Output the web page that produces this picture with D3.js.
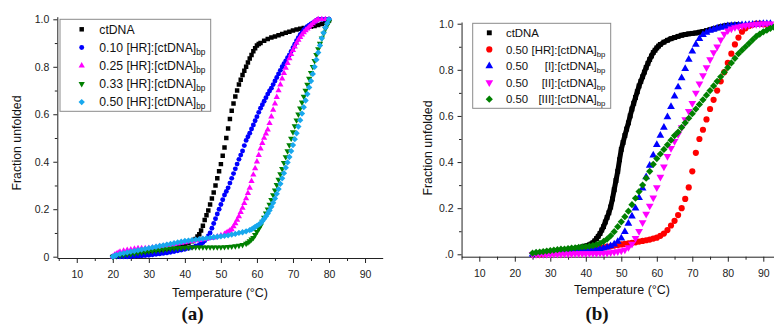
<!DOCTYPE html>
<html>
<head>
<meta charset="utf-8">
<script src="https://cdn.jsdelivr.net/npm/d3@7"></script>
<style>
  html, body { margin: 0; padding: 0; background: #fff; }
  svg { display: block; font-family: "Liberation Sans", Arial, sans-serif; }
</style>
</head>
<body>
<script>
// ---- data: [temperature °C, fraction unfolded] ----

// panel (a)
const ctDNA_a = [[20,0],[21,0],[22,0],[23,0.001],[24,0.002],[25,0.003],[26,0.004],[27,0.005],[28,0.007],[29,0.008],[30,0.01],[31,0.012],[32,0.015],[33,0.018],[34,0.021],[35,0.025],[36,0.029],[37,0.034],[38,0.04],[39,0.045],[40,0.05],[41,0.057],[42,0.065],[42.5,0.07],[43,0.075],[43.5,0.085],[44,0.095],[44.5,0.11],[45,0.13],[45.5,0.155],[46,0.175],[46.5,0.195],[47,0.22],[47.5,0.245],[48,0.27],[48.5,0.3],[49,0.33],[49.5,0.36],[50,0.39],[50.5,0.425],[51,0.46],[51.5,0.5],[52,0.54],[52.5,0.58],[53,0.615],[53.5,0.645],[54,0.675],[54.5,0.7],[55,0.725],[55.5,0.745],[56,0.765],[56.5,0.783],[57,0.8],[57.5,0.818],[58,0.835],[58.5,0.85],[59,0.865],[59.5,0.878],[60,0.89],[60.5,0.896],[61,0.9],[62,0.91],[63,0.917],[64,0.923],[65,0.928],[66,0.933],[67,0.938],[68,0.943],[69,0.948],[70,0.953],[71,0.957],[72,0.96],[73,0.963],[74,0.966],[75,0.969],[76,0.972],[77,0.976],[78,0.98],[79,0.987],[80,0.995]];
const hr010_a = [[20,0],[21,0],[22,0],[23,0],[24,0],[25,0.001],[26,0.002],[27,0.003],[28,0.004],[29,0.005],[30,0.006],[31,0.008],[32,0.01],[33,0.012],[34,0.014],[35,0.016],[36,0.019],[37,0.022],[38,0.025],[39,0.028],[40,0.031],[41,0.035],[42,0.04],[43,0.045],[44,0.05],[44.5,0.054],[45,0.06],[45.5,0.067],[46,0.075],[46.5,0.087],[47,0.1],[47.5,0.12],[48,0.14],[48.5,0.16],[49,0.18],[49.5,0.2],[50,0.22],[50.5,0.24],[51,0.26],[51.5,0.275],[52,0.29],[52.5,0.31],[53,0.33],[53.5,0.35],[54,0.37],[54.5,0.39],[55,0.41],[55.5,0.428],[56,0.445],[56.5,0.468],[57,0.49],[57.5,0.505],[58,0.52],[58.5,0.538],[59,0.555],[59.5,0.573],[60,0.59],[60.5,0.608],[61,0.625],[61.5,0.64],[62,0.655],[62.5,0.67],[63,0.685],[63.5,0.698],[64,0.71],[64.5,0.725],[65,0.74],[65.5,0.755],[66,0.77],[66.5,0.785],[67,0.8],[67.5,0.813],[68,0.825],[68.5,0.838],[69,0.85],[69.5,0.865],[70,0.88],[70.5,0.895],[71,0.91],[71.5,0.923],[72,0.935],[72.5,0.945],[73,0.955],[73.5,0.963],[74,0.97],[74.5,0.975],[75,0.98],[75.5,0.985],[76,0.99],[76.5,0.995],[77,1],[78,1],[79,1],[80,1]];
const hr025_a = [[20,0],[20.5,0.008],[21,0.012],[21.5,0.016],[22,0.02],[23,0.025],[24,0.028],[25,0.03],[26,0.033],[27,0.035],[28,0.035],[29,0.035],[30,0.036],[31,0.038],[32,0.04],[33,0.043],[34,0.045],[35,0.048],[36,0.05],[37,0.053],[38,0.055],[39,0.058],[40,0.06],[41,0.063],[42,0.065],[43,0.068],[44,0.07],[45,0.073],[46,0.075],[47,0.078],[48,0.08],[49,0.085],[50,0.09],[51,0.095],[51.5,0.1],[52,0.105],[52.5,0.11],[53,0.115],[53.5,0.127],[54,0.14],[54.5,0.155],[55,0.17],[55.5,0.188],[56,0.205],[56.5,0.225],[57,0.245],[57.5,0.268],[58,0.29],[58.5,0.318],[59,0.345],[59.5,0.372],[60,0.4],[60.5,0.428],[61,0.455],[61.5,0.478],[62,0.5],[62.5,0.518],[63,0.535],[63.5,0.562],[64,0.59],[64.5,0.618],[65,0.645],[65.5,0.672],[66,0.7],[66.5,0.725],[67,0.75],[67.5,0.773],[68,0.795],[68.5,0.815],[69,0.835],[69.5,0.853],[70,0.87],[70.5,0.885],[71,0.9],[71.5,0.913],[72,0.925],[72.5,0.935],[73,0.945],[73.5,0.953],[74,0.96],[74.5,0.968],[75,0.975],[75.5,0.983],[76,0.99],[76.5,0.995],[77,1],[78,1],[79,1],[80,1]];
const hr033_a = [[20,0],[21,0.003],[22,0.006],[23,0.008],[24,0.01],[25,0.012],[26,0.014],[27,0.016],[28,0.018],[29,0.02],[30,0.022],[31,0.024],[32,0.026],[33,0.028],[34,0.03],[35,0.032],[36,0.034],[37,0.035],[38,0.036],[39,0.037],[40,0.038],[41,0.039],[42,0.04],[43,0.04],[44,0.04],[45,0.04],[46,0.04],[47,0.04],[48,0.04],[49,0.04],[50,0.04],[51,0.041],[52,0.042],[53,0.043],[54,0.045],[55,0.047],[56,0.05],[57,0.055],[57.5,0.06],[58,0.066],[58.5,0.073],[59,0.08],[59.5,0.092],[60,0.105],[60.5,0.117],[61,0.13],[61.5,0.148],[62,0.165],[62.5,0.183],[63,0.2],[63.5,0.22],[64,0.24],[64.5,0.26],[65,0.28],[65.5,0.303],[66,0.325],[66.5,0.348],[67,0.37],[67.5,0.395],[68,0.42],[68.5,0.445],[69,0.47],[69.5,0.498],[70,0.525],[70.5,0.55],[71,0.575],[71.5,0.6],[72,0.625],[72.5,0.65],[73,0.675],[73.5,0.7],[74,0.725],[74.5,0.75],[75,0.775],[75.5,0.8],[76,0.825],[76.5,0.85],[77,0.875],[77.5,0.898],[78,0.92],[78.5,0.94],[79,0.96],[79.5,0.975],[80,0.99]];
const hr050_a = [[20,0],[20.5,0.004],[21,0.007],[22,0.012],[23,0.015],[24,0.018],[25,0.021],[26,0.024],[27,0.027],[28,0.03],[29,0.033],[30,0.036],[31,0.039],[32,0.042],[33,0.045],[34,0.048],[35,0.051],[36,0.054],[37,0.057],[38,0.06],[39,0.063],[40,0.066],[41,0.068],[42,0.07],[43,0.072],[44,0.074],[45,0.076],[46,0.078],[47,0.08],[48,0.082],[49,0.084],[50,0.086],[51,0.088],[52,0.09],[53,0.093],[54,0.096],[55,0.1],[56,0.103],[57,0.107],[58,0.112],[58.5,0.115],[59,0.12],[59.5,0.125],[60,0.13],[60.5,0.135],[61,0.14],[61.5,0.15],[62,0.16],[62.5,0.17],[63,0.182],[63.5,0.195],[64,0.21],[64.5,0.227],[65,0.245],[65.5,0.265],[66,0.285],[66.5,0.307],[67,0.33],[67.5,0.352],[68,0.375],[68.5,0.397],[69,0.42],[69.5,0.445],[70,0.47],[70.5,0.495],[71,0.52],[71.5,0.548],[72,0.575],[72.5,0.603],[73,0.63],[73.5,0.658],[74,0.685],[74.5,0.713],[75,0.74],[75.5,0.77],[76,0.8],[76.5,0.83],[77,0.86],[77.5,0.89],[78,0.92],[78.5,0.943],[79,0.965],[79.5,0.983],[80,1]];

// panel (b)
const ctDNA_b = [[25,0],[26,0.002],[27,0.004],[28,0.006],[29,0.008],[30,0.01],[31,0.012],[32,0.014],[33,0.016],[34,0.018],[35,0.02],[36,0.022],[37,0.025],[38,0.028],[39,0.032],[40,0.036],[40.5,0.038],[41,0.041],[41.5,0.045],[42,0.05],[42.5,0.058],[43,0.068],[43.5,0.078],[44,0.09],[44.5,0.105],[45,0.12],[45.5,0.14],[46,0.16],[46.5,0.18],[47,0.205],[47.5,0.24],[48,0.28],[48.5,0.32],[49,0.36],[49.5,0.41],[50,0.455],[50.5,0.485],[51,0.515],[51.5,0.543],[52,0.57],[52.5,0.6],[53,0.63],[53.5,0.655],[54,0.68],[54.5,0.705],[55,0.73],[55.5,0.75],[56,0.77],[56.5,0.79],[57,0.81],[57.5,0.828],[58,0.845],[58.5,0.86],[59,0.875],[59.5,0.885],[60,0.895],[60.5,0.903],[61,0.91],[62,0.92],[63,0.928],[64,0.935],[65,0.94],[66,0.945],[67,0.95],[68,0.953],[69,0.956],[70,0.958],[71,0.96],[72,0.963],[73,0.966],[74,0.97],[75,0.974],[76,0.978],[77,0.982],[78,0.987],[79,0.99],[80,0.993],[81,0.993],[82,0.994],[83,0.995]];
const hr050_b = [[27,0],[28,0.002],[29,0.004],[30,0.005],[31,0.006],[32,0.008],[33,0.009],[34,0.011],[35,0.012],[36,0.014],[37,0.015],[38,0.017],[39,0.018],[40,0.02],[41,0.021],[42,0.023],[43,0.025],[44,0.028],[45,0.03],[46,0.033],[47,0.035],[48,0.038],[49,0.04],[50,0.043],[51,0.045],[52,0.048],[53,0.05],[54,0.052],[55,0.055],[56,0.058],[57,0.061],[58,0.064],[59,0.068],[60,0.072],[61,0.08],[62,0.09],[63,0.105],[64,0.125],[65,0.145],[66,0.17],[67,0.2],[68,0.24],[69,0.29],[70,0.36],[71,0.44],[72,0.5],[73,0.54],[74,0.585],[75,0.63],[76,0.67],[77,0.71],[78,0.75],[79,0.79],[80,0.83],[81,0.87],[82,0.91],[83,0.94],[84,0.965],[85,0.98],[86,0.99],[87,0.995],[88,1],[89,1],[90,0.998],[91,0.996],[92,0.995]];
const cmpI_b = [[25,0],[26,0.002],[27,0.003],[28,0.004],[29,0.005],[30,0.006],[31,0.007],[32,0.008],[33,0.009],[34,0.01],[35,0.011],[36,0.012],[37,0.014],[38,0.015],[39,0.017],[40,0.018],[41,0.02],[42,0.021],[43,0.022],[44,0.024],[45,0.026],[46,0.03],[47,0.036],[48,0.044],[49,0.055],[50,0.07],[51,0.098],[52,0.134],[53,0.165],[54,0.2],[55,0.245],[56,0.286],[57,0.335],[58,0.385],[59,0.43],[60,0.475],[61,0.515],[62,0.55],[63,0.595],[64,0.64],[65,0.685],[66,0.725],[67,0.765],[68,0.805],[69,0.845],[70,0.88],[71,0.91],[72,0.935],[73,0.952],[74,0.962],[75,0.97],[76,0.975],[77,0.98],[78,0.984],[79,0.987],[80,0.99],[81,0.991],[82,0.992],[83,0.993],[84,0.994],[85,0.995],[86,0.996],[87,0.997],[88,0.998],[89,0.999],[90,1],[91,1],[92,1]];
const cmpII_b = [[25,0],[26,0],[27,0],[28,0],[29,0],[30,0],[31,0.001],[32,0.001],[33,0.001],[34,0.002],[35,0.002],[36,0.002],[37,0.003],[38,0.003],[39,0.003],[40,0.003],[41,0.004],[42,0.004],[43,0.004],[44,0.005],[45,0.005],[46,0.006],[47,0.008],[48,0.01],[49,0.012],[50,0.015],[51,0.02],[52,0.03],[53,0.045],[54,0.07],[55,0.1],[56,0.138],[57,0.175],[58,0.21],[59,0.245],[60,0.29],[61,0.335],[62,0.38],[63,0.425],[64,0.46],[65,0.49],[66,0.52],[67,0.55],[68,0.585],[69,0.62],[70,0.655],[71,0.7],[72,0.74],[73,0.775],[74,0.81],[75,0.845],[76,0.875],[77,0.9],[78,0.93],[79,0.955],[80,0.97],[81,0.978],[82,0.984],[83,0.987],[84,0.99],[85,0.992],[86,0.994],[87,0.996],[88,0.998],[89,0.999],[90,1],[91,1],[92,1]];
const cmpIII_b = [[25,0.005],[26,0.008],[27,0.01],[28,0.012],[29,0.014],[30,0.016],[31,0.018],[32,0.02],[33,0.022],[34,0.023],[35,0.025],[36,0.027],[37,0.028],[38,0.03],[39,0.032],[40,0.033],[41,0.035],[42,0.038],[43,0.042],[44,0.048],[45,0.056],[46,0.066],[47,0.08],[48,0.098],[49,0.12],[50,0.141],[51,0.163],[52,0.187],[53,0.215],[54,0.243],[55,0.272],[56,0.3],[57,0.33],[58,0.36],[59,0.39],[60,0.415],[61,0.435],[62,0.455],[63,0.475],[64,0.495],[65,0.515],[66,0.53],[67,0.55],[68,0.57],[69,0.59],[70,0.61],[71,0.63],[72,0.65],[73,0.67],[74,0.69],[75,0.71],[76,0.73],[77,0.75],[78,0.77],[79,0.79],[80,0.81],[81,0.83],[82,0.85],[83,0.87],[84,0.885],[85,0.9],[86,0.915],[87,0.93],[88,0.945],[89,0.955],[90,0.965],[91,0.972],[92,0.98],[93,0.985]];

// ticks and labels
const xMajorTicks = [10, 20, 30, 40, 50, 60, 70, 80, 90];
const xMinorTicks = [5, 15, 25, 35, 45, 55, 65, 75, 85];
const yMajorTicks = [0, 0.2, 0.4, 0.6, 0.8, 1.0];
const yMinorTicks = [0.1, 0.3, 0.5, 0.7, 0.9];

const legendA = [
  { pre: "ctDNA", mid: "", sub: "" },
  { pre: "0.10 [HR]:[ctDNA]", mid: "", sub: "bp" },
  { pre: "0.25 [HR]:[ctDNA]", mid: "", sub: "bp" },
  { pre: "0.33 [HR]:[ctDNA]", mid: "", sub: "bp" },
  { pre: "0.50 [HR]:[ctDNA]", mid: "", sub: "bp" },
];
const legendB = [
  { pre: "ctDNA", mid: "", sub: "" },
  { pre: "0.50", mid: "[HR]:[ctDNA]", sub: "bp" },
  { pre: "0.50", mid: "[I]:[ctDNA]", sub: "bp" },
  { pre: "0.50", mid: "[II]:[ctDNA]", sub: "bp" },
  { pre: "0.50", mid: "[III]:[ctDNA]", sub: "bp" },
];

const W = 774, H = 325;
const svg = d3.select("body").append("svg")
  .attr("width", W)
  .attr("height", H)
  .attr("viewBox", [0, 0, W, H]);

// square turned 45° as the Origin-style diamond
const diamond = {
  draw(ctx, size) {
    const r = Math.sqrt(size / 2);
    ctx.moveTo(0, -r); ctx.lineTo(r, 0); ctx.lineTo(0, r); ctx.lineTo(-r, 0); ctx.closePath();
  }
};

function markerPath(shape, size) {
  if (shape === "square") return d3.symbol(d3.symbolSquare, size)();
  if (shape === "circle") return d3.symbol(d3.symbolCircle, size)();
  if (shape === "diamond") return d3.symbol(diamond, size)();
  return d3.symbol(d3.symbolTriangle, size)(); // up / down
}

function drawPanel(p) {
  const x = d3.scaleLinear().domain(p.xDomain).range(p.xRange);
  const y = d3.scaleLinear().domain(p.yDomain).range(p.yRange);
  const g = svg.append("g");

  // clip so points past the right edge don't spill
  const clipId = "clip" + p.id;
  svg.append("clipPath").attr("id", clipId)
    .append("rect")
    .attr("x", p.xRange[0]).attr("y", 0)
    .attr("width", Math.min(W, p.xRange[1]) - p.xRange[0])
    .attr("height", p.yRange[0] + 4);

  // x axis
  g.append("g").attr("transform", `translate(0,${p.yRange[0]})`)
    .call(d3.axisBottom(x).tickValues(xMajorTicks).tickSize(5).tickSizeOuter(0).tickPadding(8))
    .call(a => a.selectAll("text").attr("font-size", 10.5).attr("fill", "#222"));
  g.append("g").attr("transform", `translate(0,${p.yRange[0]})`)
    .call(d3.axisBottom(x).tickValues(xMinorTicks.filter(v => x(v) >= p.xRange[0])).tickSize(3).tickFormat(""))
    .call(a => a.select(".domain").remove());

  // y axis
  g.append("g").attr("transform", `translate(${p.xRange[0]},0)`)
    .call(d3.axisLeft(y).tickValues(yMajorTicks).tickSize(4).tickSizeOuter(0).tickPadding(4)
      .tickFormat(d => d === 0 ? p.zeroLabel : d3.format(".1f")(d)))
    .call(a => a.selectAll("text").attr("font-size", 10.5).attr("fill", "#222"));
  g.append("g").attr("transform", `translate(${p.xRange[0]},0)`)
    .call(d3.axisLeft(y).tickValues(yMinorTicks).tickSize(2.5).tickFormat(""))
    .call(a => a.select(".domain").remove());

  g.selectAll(".domain, .tick line").attr("stroke", "#222");

  // series
  const plot = g.append("g").attr("clip-path", `url(#${clipId})`);
  p.series.forEach(s => {
    if (s.line) {
      plot.append("path")
        .datum(s.data)
        .attr("fill", "none")
        .attr("stroke", s.color)
        .attr("stroke-width", s.line)
        .attr("d", d3.line().x(d => x(d[0])).y(d => y(d[1])));
    }
    plot.append("g").selectAll("path")
      .data(s.data)
      .join("path")
      .attr("d", markerPath(s.shape, s.size))
      .attr("transform", d => `translate(${x(d[0])},${y(d[1])})${s.shape === "down" ? " rotate(180)" : ""}`)
      .attr("fill", s.color);
  });

  // legend
  const L = p.legend;
  g.append("rect")
    .attr("x", L.x).attr("y", L.y).attr("width", L.w).attr("height", L.h)
    .attr("fill", "#fff").attr("stroke", "#8a8a8a").attr("stroke-width", 1);
  p.series.forEach((s, i) => {
    const cy = L.y + L.first + i * L.step;
    g.append("path")
      .attr("d", markerPath(s.shape, s.size))
      .attr("transform", `translate(${L.markX},${cy})${s.shape === "down" ? " rotate(180)" : ""}`)
      .attr("fill", s.color);
    const lab = p.labels[i];
    const t = g.append("text")
      .attr("x", L.textX).attr("y", cy + L.fs * 0.36)
      .attr("font-size", L.fs).attr("fill", "#111");
    t.append("tspan").text(lab.pre);
    if (lab.mid) {
      g.append("text")
        .attr("x", L.midEnd).attr("y", cy + L.fs * 0.36)
        .attr("text-anchor", "end")
        .attr("font-size", L.fs).attr("fill", "#111")
        .text(lab.mid);
      if (lab.sub) {
        g.append("text")
          .attr("x", L.midEnd).attr("y", cy + L.fs * 0.36 + 3)
          .attr("font-size", L.fs * 0.68).attr("fill", "#111")
          .text(lab.sub);
      }
    } else if (lab.sub) {
      t.append("tspan").attr("dy", 3).attr("font-size", L.fs * 0.68).text(lab.sub);
    }
  });

  // axis titles
  g.append("text")
    .attr("transform", `translate(${p.yTitleX},${p.yTitleY}) rotate(-90)`)
    .attr("text-anchor", "middle")
    .attr("font-size", 12.3).attr("fill", "#111")
    .text("Fraction unfolded");
  g.append("text")
    .attr("x", p.xTitleX).attr("y", p.xTitleY)
    .attr("text-anchor", "middle")
    .attr("font-size", 12.5).attr("fill", "#111")
    .text("Temperature (°C)");
  g.append("text")
    .attr("x", p.tagX).attr("y", 320)
    .attr("text-anchor", "middle")
    .attr("font-family", "'Liberation Serif', 'DejaVu Serif', serif")
    .attr("font-weight", "bold")
    .attr("font-size", 19)
    .attr("fill", "#111")
    .text(p.tag);
}

drawPanel({
  id: "a",
  xDomain: [4.6, 94.9], xRange: [57.3, 382.7],
  yDomain: [-0.0055, 1.011], yRange: [258, 16.7],
  zeroLabel: "0",
  series: [
    { data: ctDNA_a, color: "#000000", shape: "square", size: 20 },
    { data: hr010_a, color: "#0000ff", shape: "circle", size: 19 },
    { data: hr025_a, color: "#ff00ff", shape: "up", size: 17 },
    { data: hr033_a, color: "#008000", shape: "down", size: 17 },
    { data: hr050_a, color: "#18a8ee", shape: "diamond", size: 20 },
  ],
  labels: legendA,
  legend: { x: 60, y: 19.3, w: 150.7, h: 92, first: 10, step: 18.2, markX: 81.7, textX: 99.3, fs: 12.2 },
  yTitleX: 21, yTitleY: 143,
  xTitleX: 220, xTitleY: 296.5,
  tagX: 192.5, tag: "(a)",
});

drawPanel({
  id: "b",
  xDomain: [5, 95], xRange: [461.55, 781.05],
  yDomain: [-0.0104, 1.0074], yRange: [256.7, 22],
  zeroLabel: ".0",
  series: [
    { data: ctDNA_b, color: "#000000", shape: "square", size: 24, line: 5 },
    { data: hr050_b, color: "#ff0000", shape: "circle", size: 30 },
    { data: cmpI_b, color: "#0000ff", shape: "up", size: 26 },
    { data: cmpII_b, color: "#ff00ff", shape: "down", size: 26 },
    { data: cmpIII_b, color: "#008000", shape: "diamond", size: 26 },
  ],
  labels: legendB,
  legend: { x: 472.7, y: 23.3, w: 138, h: 85, first: 9.5, step: 16.6, markX: 489.3, textX: 506, fs: 11.4, midEnd: 596.7 },
  yTitleX: 432, yTitleY: 148,
  xTitleX: 622, xTitleY: 293.5,
  tagX: 597, tag: "(b)",
});
</script>
</body>
</html>
